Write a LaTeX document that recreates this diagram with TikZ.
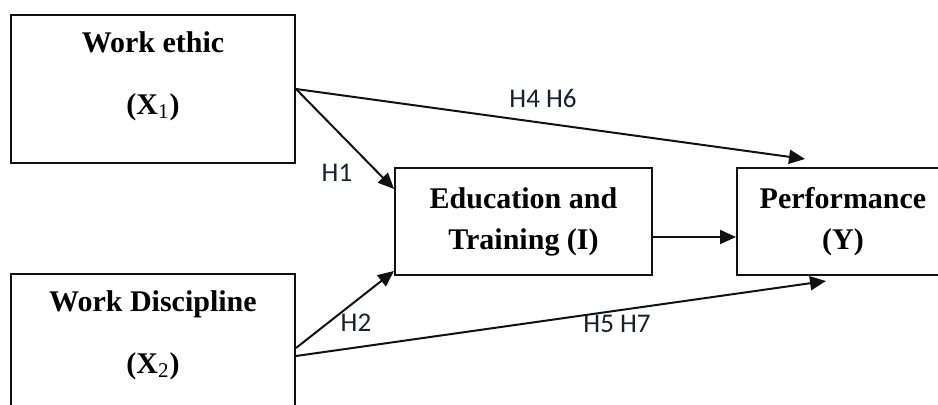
\documentclass[tikz,border=0pt]{standalone}
\usepackage{fontspec}
\setmainfont{Liberation Serif}
\newfontfamily\hypfont{Carlito}
\usetikzlibrary{arrows.meta,calc}
\definecolor{ink}{HTML}{111111}
\definecolor{hypc}{HTML}{1A1F30}
\newcommand{\bx}{\fontsize{15}{20.5}\selectfont\bfseries}
\tikzset{
  box/.style    ={draw=ink, line width=1pt, fill=white, inner sep=0pt},
  vbox/.style   ={box, minimum width=142pt, minimum height=74pt},
  mbox/.style   ={box, minimum height=53.5pt, align=center, font=\bx},
  vtxt/.style   ={align=center, inner sep=0pt, font=\bx},
  ln/.style     ={draw=ink, line width=1pt, -{Triangle[length=8pt,width=7pt]}},
  hyp/.style    ={font=\hypfont\fontsize{13.5}{16}\selectfont, color=hypc, inner sep=0pt},
}
\begin{document}
\begin{tikzpicture}[x=0.5pt,y=-0.5pt]
    \useasboundingbox (0,0) rectangle (938,405);
    \clip (0,0) rectangle (938,405);
    % variables
    \node[vbox] (x1) at (153,89) {};
    \node[vtxt] (x1t) at (153,76) {Work ethic\\[10.5pt](X\textsubscript{\mdseries 1})};
    \node[vbox] (x2) at (153,348) {};
    \node[vtxt] (x2t) at (153,335) {Work Discipline\\[10.5pt](X\textsubscript{\mdseries 2})};
    \node[mbox,minimum width=128.5pt] (edu) at (523.5,221.5) {Education and\\Training (I)};
    \node[mbox,minimum width=106pt] (perf) at (843,221.5) {Performance\\(Y)};
    % paths
    \draw[ln] (x1.east) -- ([yshift=-11pt]edu.north west);
    \draw[ln] (x2.east) -- ([yshift=2.5pt]edu.south west);
    \draw[ln] (x1.east) -- ([xshift=34.5pt,yshift=4pt]perf.north west);
    \draw[ln] ([yshift=-4pt]x2.east) -- ([xshift=45pt,yshift=-2.5pt]perf.south west);
    \draw[ln] ([yshift=-7.75pt]edu.east) -- ([yshift=-7.75pt]perf.west);
    % hypotheses
    \node[hyp] (h1) at (337,173) {H1};
    \node[hyp] (h2) at (356,323) {H2};
    \node[hyp] (h46) at (543,98) {H4 H6};
    \node[hyp] (h57) at (617,324) {H5 H7};
\end{tikzpicture}
\end{document}
